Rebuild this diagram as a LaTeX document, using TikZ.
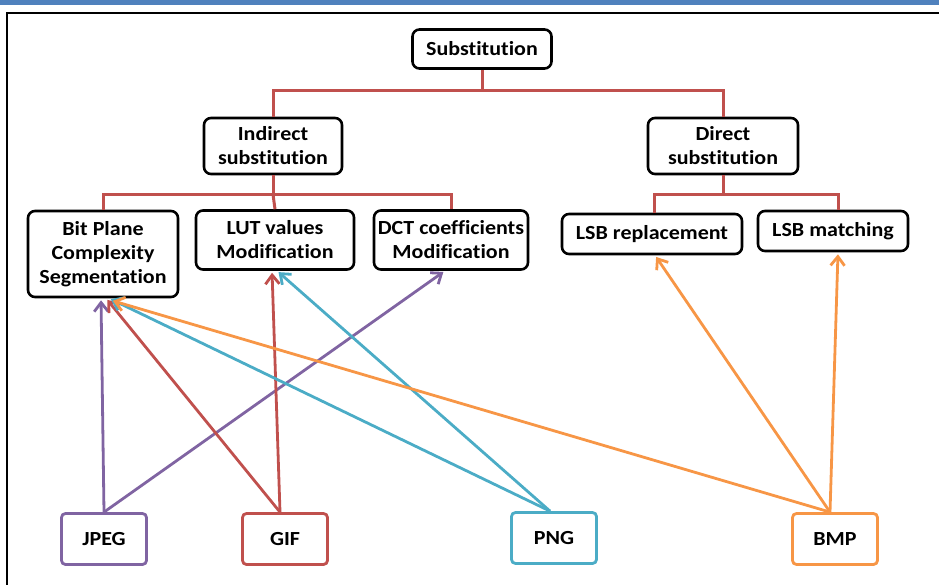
\documentclass[tikz,border=0pt]{standalone}
\usepackage{fontspec}
\setmainfont{Carlito}[FakeStretch=1.1, RawFeature=-liga]
\usetikzlibrary{arrows.meta, calc}

\tikzset{
  topic/.style={draw, line width=2.6pt, rounded corners=7pt, fill=white, align=center,
    inner sep=2pt, font=\bfseries\fontsize{20}{24}\selectfont},
  fmt/.style={draw, line width=2.8pt, rounded corners=4pt, fill=white, align=center,
    minimum width=85pt, minimum height=51pt, font=\bfseries\fontsize{20}{24}\selectfont},
  tree/.style={draw=treered, line width=3pt},
  link/.style={line width=2.8pt, shorten >=2pt, -{Straight Barb[length=9pt, width=14pt, line width=2.8pt]}}
}

\begin{document}
\begin{tikzpicture}[x=1pt, y=-1pt]
        % Define some colors for convenience
        \definecolor{treered}{RGB}{192,80,77} % tree lines and GIF
        \definecolor{jpegcol}{RGB}{128,100,162} % JPEG purple
        \definecolor{pngcol}{RGB}{75,172,198} % PNG teal
        \definecolor{bmpcol}{RGB}{247,150,70} % BMP orange
        \definecolor{bandblue}{RGB}{79,129,189} % top band

        \useasboundingbox (0,0) rectangle (939,585);

        % Page band and frame
        \fill[bandblue] (0,0) rectangle (939,5); % top band
        \draw[line width=2.6pt] (7,590) -- (7,13) -- (945,13); % outer frame

        % Topic boxes
        \node[topic, minimum width=139pt, minimum height=39pt] (sub) at (482,49) {Substitution}; % root
        \node[topic, minimum width=138pt, minimum height=56pt] (ind) at (273,146) {Indirect\\substitution}; % indirect
        \node[topic, minimum width=150pt, minimum height=56pt] (dir) at (723,146) {Direct\\substitution}; % direct
        \node[topic, minimum width=150pt, minimum height=86pt] (bpcs) at (103,254) {Bit Plane\\Complexity\\Segmentation}; % BPCS
        \node[topic, minimum width=158pt, minimum height=59pt] (lut) at (275,240) {LUT values\\Modification}; % LUT
        \node[topic, minimum width=154pt, minimum height=59pt] (dct) at (451,240) {DCT coefficients\\Modification}; % DCT
        \node[topic, minimum width=180pt, minimum height=40pt] (lsbr) at (652,234) {LSB replacement}; % LSB replacement
        \node[topic, minimum width=150pt, minimum height=40pt] (lsbm) at (833,231) {LSB matching}; % LSB matching

        % Image formats
        \node[fmt, draw=jpegcol] (jpeg) at (104,539) {JPEG}; % JPEG
        \node[fmt, draw=treered] (gif) at (285,539) {GIF}; % GIF
        \node[fmt, draw=pngcol] (png) at (554,538) {PNG}; % PNG
        \node[fmt, draw=bmpcol] (bmp) at (835,539) {BMP}; % BMP

        % Tree lines
        \draw[tree] (sub.south) -- ++(0,21) coordinate (j1) -| (ind.north); % root to indirect
        \draw[tree] (j1) -| (dir.north); % root to direct
        \draw[tree] (ind.south) -- ++(0,19) coordinate (j2) -| (bpcs.north); % indirect to BPCS
        \draw[tree] (j2) -| (dct.north); % indirect to DCT
        \draw[tree] (j2) -- (lut.north); % indirect to LUT
        \draw[tree] (dir.south) -- ++(0,19) coordinate (j3) -| ([xshift=2pt]lsbr.north); % direct to LSB replacement
        \draw[tree] (j3) -| ([xshift=5pt]lsbm.north); % direct to LSB matching

        % Format links
        \draw[link, jpegcol] (jpeg.north) -- ([xshift=-2pt]bpcs.south); % JPEG to BPCS
        \draw[link, jpegcol] (jpeg.north) -- ([xshift=-6pt]dct.south); % JPEG to DCT
        \draw[link, treered] ([xshift=-5pt]gif.north) -- ([xshift=3pt]bpcs.south); % GIF to BPCS
        \draw[link, treered] ([xshift=-5pt]gif.north) -- ([xshift=-3pt]lut.south); % GIF to LUT
        \draw[link, pngcol] ([xshift=-4pt]png.north) -- ([xshift=6pt]bpcs.south); % PNG to BPCS
        \draw[link, pngcol] ([xshift=-4pt]png.north) -- ([xshift=2pt]lut.south); % PNG to LUT
        \draw[link, bmpcol] ([xshift=-5pt]bmp.north) -- ([xshift=8pt, yshift=-2pt]bpcs.south); % BMP to BPCS
        \draw[link, bmpcol] ([xshift=-5pt]bmp.north) -- ([xshift=3pt]lsbr.south); % BMP to LSB replacement
        \draw[link, bmpcol] ([xshift=-5pt]bmp.north) -- ([xshift=5pt]lsbm.south); % BMP to LSB matching
\end{tikzpicture}
\end{document}
